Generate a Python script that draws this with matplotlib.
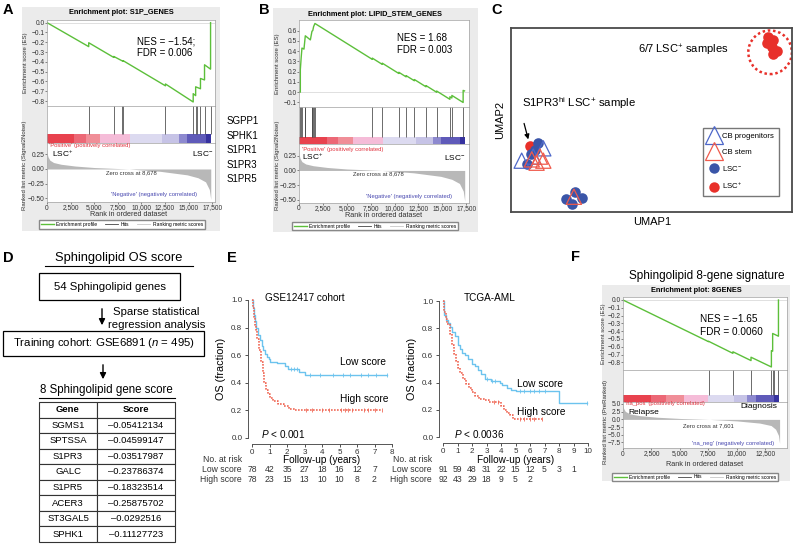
import numpy as np
import matplotlib
matplotlib.use('Agg')
import matplotlib.pyplot as plt
from matplotlib.patches import Rectangle, Ellipse
from matplotlib.lines import Line2D
from matplotlib.ticker import FuncFormatter
from matplotlib.transforms import blended_transform_factory

plt.rcParams['font.family'] = ['Liberation Sans', 'DejaVu Sans']
plt.rcParams['mathtext.fontset'] = 'custom'
plt.rcParams['mathtext.rm'] = 'Liberation Sans'
plt.rcParams['mathtext.it'] = 'Liberation Sans:italic'
plt.rcParams['mathtext.bf'] = 'Liberation Sans:bold'

# ---------------- data ----------------
# A / B share the LSC+ vs LSC- ranked list
rank_x = [0, 100, 300, 700, 1500, 3000, 5000, 8678, 12000, 14850, 16000, 16800, 17200, 17350]
rank_y = [0.28, 0.21, 0.15, 0.11, 0.08, 0.05, 0.025, 0.0, -0.04, -0.10, -0.15, -0.22, -0.35, -0.52]
rank_edges = [0, 2880, 4120, 5650, 8800, 12200, 14000, 14870, 16850, 17350]

s1p_es_x = [0, 4420, 4420, 7070, 7070, 8060, 8060, 12550, 12550, 15490, 15490, 15750, 15750,
            16260, 16260, 16690, 16690, 17330, 17330]
s1p_es_y = [0, -0.245, -0.205, -0.355, -0.345, -0.395, -0.388, -0.645, -0.626, -0.81, -0.725,
            -0.745, -0.655, -0.675, -0.57, -0.585, -0.43, -0.475, 0.0]
s1p_hits = [4420, 7070, 7950, 8060, 12550, 15490, 15750, 15910, 16260, 16690, 17330]
s1p_genes = ['SGPP1', 'SPHK1', 'S1PR1', 'S1PR3', 'S1PR5']

stem_es_x = [0, 140, 140, 230, 310, 520, 660, 1190, 1360, 1440, 1530, 1670, 7673, 7673, 8715, 8715,
             10451, 10451, 11215, 11215, 12083, 12083, 13298, 13298, 14410, 14410, 15798, 15798,
             16007, 16007, 17187, 17187, 17330]
stem_es_y = [0, 0.0, 0.22, 0.34, 0.43, 0.42, 0.55, 0.51, 0.595, 0.60, 0.64, 0.67, 0.32, 0.332, 0.271,
             0.283, 0.182, 0.194, 0.149, 0.161, 0.111, 0.123, 0.052, 0.064, -0.001, 0.011, -0.07,
             -0.045, -0.057, -0.032, -0.101, 0.017, 0.012]
stem_hits = [140, 230, 310, 625, 660, 1320, 1360, 1420, 1530, 1670, 7673, 8715, 10451, 11215,
             12083, 13298, 14410, 15798, 16007, 17187]

# F: 8-gene signature, relapse vs diagnosis
sig_rank_x = [0, 50, 200, 600, 1500, 3000, 5000, 7601, 10000, 12000, 13000, 13400, 13650, 13750]
sig_rank_y = [5.0, 3.6, 2.6, 1.8, 1.2, 0.7, 0.3, 0.0, -0.5, -1.2, -2.0, -3.2, -5.2, -7.8]
sig_edges = [0, 2500, 3760, 5370, 7480, 9740, 10860, 11650, 13230, 13700]
sig_es_x = [0, 7510, 7510, 9650, 9650, 11240, 11240, 13030, 13030, 13140, 13140, 13650, 13650]
sig_es_y = [0, -0.535, -0.53, -0.685, -0.665, -0.778, -0.735, -0.86, -0.65, -0.658, -0.43, -0.465, 0.0]
sig_hits = [7510, 9650, 11240, 13030, 13140, 13230, 13650]

# C: UMAP coordinates
lsc_neg_x = [0.97, 0.70, 0.56, 0.85, 1.96, 2.28, 2.52, 2.16]
lsc_neg_y = [3.77, 3.15, 2.59, 3.35, 0.69, 1.10, 0.74, 0.43]
lsc_pos_x = [9.16, 9.31, 9.10, 9.28, 9.46, 9.34, 0.66]
lsc_pos_y = [9.49, 9.35, 9.17, 8.98, 8.77, 8.59, 3.58]
cb_prog_x = [1.15, 0.38, 0.79]
cb_prog_y = [3.46, 2.79, 3.01]
cb_stem_x = [1.03, 0.91, 1.15, 0.74, 2.24]
cb_stem_y = [3.01, 2.68, 2.79, 2.86, 0.83]

# D: gene score table
genes = ['SGMS1', 'SPTSSA', 'S1PR3', 'GALC', 'S1PR5', 'ACER3', 'ST3GAL5', 'SPHK1']
scores = [-0.05412134, -0.04599147, -0.03517987, -0.23786374, -0.18323514, -0.25875702,
          -0.0292516, -0.11127723]

# E: Kaplan-Meier curves
gse_low_t = [0, 0.05, 0.1, 0.15, 0.25, 0.35, 0.45, 0.55, 0.65, 0.75, 0.85, 0.95, 1.05, 1.45, 1.9,
             2.05, 2.7, 3.0, 7.7]
gse_low_s = [1.0, 0.94, 0.89, 0.85, 0.80, 0.75, 0.71, 0.67, 0.64, 0.61, 0.59, 0.57, 0.55, 0.54,
             0.52, 0.50, 0.48, 0.46, 0.46]
gse_high_t = [0, 0.05, 0.1, 0.15, 0.2, 0.3, 0.4, 0.5, 0.6, 0.7, 0.8, 0.9, 1.0, 1.2, 1.5, 1.8, 2.1,
              2.45, 7.45]
gse_high_s = [1.0, 0.94, 0.88, 0.82, 0.78, 0.72, 0.64, 0.55, 0.47, 0.40, 0.35, 0.32, 0.29, 0.27,
              0.25, 0.23, 0.21, 0.20, 0.20]
gse_low_cens = [2.2, 2.4, 2.55, 3.3, 3.9, 4.6, 5.2, 5.6, 6.2, 6.6, 7.1, 7.7]
gse_high_cens = [3.1, 3.4, 4.0, 4.4, 5.1, 5.3, 5.5, 5.7, 6.4, 6.6, 7.0, 7.45]
gse_low_risk = [78, 42, 35, 27, 18, 16, 12, 7]
gse_high_risk = [78, 23, 15, 13, 10, 10, 8, 2]

tcga_low_t = [0, 0.1, 0.2, 0.35, 0.5, 0.65, 0.8, 1.0, 1.15, 1.3, 1.5, 1.7, 2.0, 2.2, 2.4, 2.6, 2.9,
              3.3, 3.9, 4.1, 4.4, 4.7, 5.0, 8.0, 9.9]
tcga_low_s = [1.0, 0.90, 0.86, 0.84, 0.81, 0.77, 0.74, 0.68, 0.65, 0.62, 0.60, 0.57, 0.54, 0.52,
              0.49, 0.46, 0.43, 0.41, 0.40, 0.38, 0.36, 0.345, 0.335, 0.25, 0.25]
tcga_high_t = [0, 0.1, 0.2, 0.3, 0.45, 0.6, 0.75, 0.9, 1.05, 1.2, 1.4, 1.6, 1.8, 2.0, 2.2, 2.5, 2.9,
               3.2, 4.0, 4.2, 4.4, 4.6, 4.8, 6.8]
tcga_high_s = [1.0, 0.92, 0.87, 0.83, 0.76, 0.68, 0.61, 0.56, 0.51, 0.47, 0.43, 0.39, 0.36, 0.33,
               0.30, 0.28, 0.27, 0.255, 0.23, 0.20, 0.18, 0.16, 0.135, 0.135]
tcga_low_cens = [3.0, 3.4, 3.6, 5.3, 5.6, 6.0, 6.3, 6.6, 7.0, 9.9]
tcga_high_cens = [3.5, 3.8, 5.3, 5.6, 6.0, 6.3, 6.8]
tcga_low_risk = [91, 59, 48, 31, 22, 15, 12, 5, 3, 1]
tcga_high_risk = [92, 43, 29, 18, 9, 5, 2]

# ---------------- styles ----------------
bar_cols = ['#e8424e', '#ec6876', '#f08e98', '#f5bcd8', '#dcdaf0', '#c6c3e6', '#8d89cf',
            '#5f5ab9', '#36329f']
GREEN = '#5cbf3a'
KM_BLUE = '#6cc3ee'
KM_RED = '#f06a58'
C_BLUE = '#3a55a8'
C_RED = '#e8302a'
T_BLUE = '#4d67c9'
T_RED = '#ef5a4c'

W, H = 794, 544
fig = plt.figure(figsize=(W / 100, H / 100), dpi=100)


def box(x0, y0, x1, y1):
    return [x0 / W, 1 - y1 / H, (x1 - x0) / W, (y1 - y0) / H]


def txt(x, y, s, **kw):
    kw.setdefault('ha', 'left')
    kw.setdefault('va', 'center')
    return fig.text(x / W, 1 - y / H, s, **kw)


def minus_fmt(fmt):
    return FuncFormatter(lambda v, p: (fmt % v).replace('-', '\u2212'))


def gsea(bg, title_y, x0, x1, ys, title, es_x, es_y, hits, rk_x, rk_y, edges, xmax, xticks,
         es_lim, es_ticks, m_lim, m_ticks, es_lab_x, m_lab, m_lab_x, m_lab_y, xlab_xy, leg_xy):
    y_es0, y_es1, y_bar0, y_bar1, y_m1 = ys
    fig.add_artist(Rectangle((bg[0] / W, 1 - bg[3] / H), (bg[2] - bg[0]) / W, (bg[3] - bg[1]) / H,
                             transform=fig.transFigure, fc='#ebebeb', ec='none', zorder=-5))
    txt((bg[0] + bg[2]) / 2, title_y, title, ha='center', fontsize=5.3, fontweight='bold')
    ax1 = fig.add_axes(box(x0, y_es0, x1, y_es1))
    ax1.plot(es_x, es_y, color=GREEN, lw=1.0)
    ax1.axhline(0, color='#c8c8c8', lw=0.4, zorder=0)
    ax1.set_xlim(0, xmax)
    ax1.set_ylim(*es_lim)
    ax1.set_yticks(es_ticks)
    ax1.yaxis.set_major_formatter(minus_fmt('%.1f'))
    ax1.set_xticks([])
    ax2 = fig.add_axes(box(x0, y_es1, x1, y_bar1))
    frac = (y_bar1 - y_bar0) / (y_bar1 - y_es1)
    ax2.bar(edges[:-1], frac, width=np.diff(edges), bottom=0, align='edge', color=bar_cols, lw=0)
    ax2.vlines(hits, frac, 1, color='#444444', lw=0.55)
    ax2.set_xlim(0, xmax)
    ax2.set_ylim(0, 1)
    ax2.set_xticks([])
    ax2.set_yticks([])
    ax3 = fig.add_axes(box(x0, y_bar1, x1, y_m1))
    ax3.fill_between(rk_x, rk_y, 0, color='#b8b8b8', lw=0)
    ax3.set_xlim(0, xmax)
    ax3.set_ylim(*m_lim)
    ax3.set_yticks(m_ticks)
    fmt = '%.2f' if abs(m_ticks[0]) < 1 else '%.1f'
    ax3.yaxis.set_major_formatter(minus_fmt(fmt))
    ax3.set_xticks(xticks)
    ax3.xaxis.set_major_formatter(FuncFormatter(lambda v, p: f'{v:,.0f}'))
    for ax in (ax1, ax2, ax3):
        for sp in ax.spines.values():
            sp.set_color('#a0a0a0')
            sp.set_linewidth(0.5)
        ax.tick_params(labelsize=4.8, length=1.2, width=0.4, pad=0.6, colors='#333333')
    txt(es_lab_x, (y_es0 + y_es1) / 2, 'Enrichment score (ES)', rotation=90, ha='center',
        fontsize=4.3, color='#333333')
    txt(m_lab_x, m_lab_y, m_lab, rotation=90, ha='center', fontsize=4.3, color='#333333')
    txt(xlab_xy[0], xlab_xy[1], 'Rank in ordered dataset', ha='center', fontsize=5.2, color='#333333')
    handles = [Line2D([], [], color=GREEN, lw=1.0), Line2D([], [], color='#444444', lw=0.6),
               Line2D([], [], color='#c8c8c8', lw=0.6)]
    fig.legend(handles, ['Enrichment profile', 'Hits', 'Ranking metric scores'], ncol=3,
               loc='center', bbox_to_anchor=(leg_xy[0] / W, 1 - leg_xy[1] / H), fontsize=3.6,
               frameon=True, fancybox=False, edgecolor='#888888', framealpha=1, borderpad=0.35,
               handlelength=2.6, handletextpad=0.5, columnspacing=1.6, borderaxespad=0)
    return ax1, ax2, ax3


# ---------------- A ----------------
txt(8, 10, 'A', ha='center', fontsize=10.5, fontweight='bold')
gsea((22, 7, 220, 231), 12, 47, 215, (20, 106, 134, 143, 202), 'Enrichment plot: S1P_GENES',
     s1p_es_x, s1p_es_y, s1p_hits, rank_x, rank_y, rank_edges, 17800,
     [0, 2500, 5000, 7500, 10000, 12500, 15000, 17500],
     (-0.851, 0.027), [0, -0.1, -0.2, -0.3, -0.4, -0.5, -0.6, -0.7, -0.8],
     (-0.563, 0.443), [0.25, 0, -0.25, -0.5], 25, 'Ranked list metric (Signal2Noise)', 25, 165,
     (129, 215), (122, 224.5))
txt(137, 42, 'NES = \u22121.54;', fontsize=7)
txt(137, 53, 'FDR = 0.006', fontsize=7)
txt(52, 154, r'LSC$^{+}$', fontsize=6)
txt(213, 154, r'LSC$^{-}$', ha='right', fontsize=6)
txt(49, 146, "'Positive' (positively correlated)", fontsize=4.2, color='#e0303c')
txt(197, 194, "'Negative' (negatively correlated)", ha='right', fontsize=4.2, color='#4848b0')
txt(131, 173, 'Zero cross at 8,678', ha='center', fontsize=4.2, color='#333333')
for i, g in enumerate(s1p_genes):
    txt(227, 121 + 14.6 * i, g, fontsize=7)

# ---------------- B ----------------
txt(264, 10, 'B', ha='center', fontsize=10.5, fontweight='bold')
gsea((273, 8, 478, 232), 14, 299, 469, (20, 107, 137, 144, 203), 'Enrichment plot: LIPID_STEM_GENES',
     stem_es_x, stem_es_y, stem_hits, rank_x, rank_y, rank_edges, 17800,
     [0, 2500, 5000, 7500, 10000, 12500, 15000, 17500],
     (-0.145, 0.704), [0.6, 0.5, 0.4, 0.3, 0.2, 0.1, 0, -0.1],
     (-0.551, 0.448), [0.25, 0, -0.25, -0.5], 278, 'Ranked list metric (Signal2Noise)', 278, 165,
     (384, 216), (375, 226))
txt(397, 38, 'NES = 1.68', fontsize=7)
txt(397, 50, 'FDR = 0.003', fontsize=7)
txt(302, 157, r'LSC$^{+}$', fontsize=6)
txt(465, 157, r'LSC$^{-}$', ha='right', fontsize=6)
txt(302, 149, "'Positive' (positively correlated)", fontsize=4.2, color='#e0303c')
txt(452, 197, "'Negative' (negatively correlated)", ha='right', fontsize=4.2, color='#4848b0')
txt(378, 174, 'Zero cross at 8,678', ha='center', fontsize=4.2, color='#333333')

# ---------------- C ----------------
txt(497, 10, 'C', ha='center', fontsize=10.5, fontweight='bold')
axC = fig.add_axes(box(511, 28, 792, 212))
axC.set_xlim(0, 10)
axC.set_ylim(0, 10)
axC.set_xticks([])
axC.set_yticks([])
for sp in axC.spines.values():
    sp.set_color('#4a4a4a')
    sp.set_linewidth(1.3)
axC.scatter(lsc_pos_x, lsc_pos_y, s=58, color=C_RED, lw=0, zorder=2)
axC.scatter(lsc_neg_x, lsc_neg_y, s=58, color=C_BLUE, lw=0, zorder=3)
axC.scatter(cb_prog_x, cb_prog_y, s=120, marker='^', facecolors='none', edgecolors=T_BLUE,
            linewidths=0.9, zorder=4)
axC.scatter(cb_stem_x, cb_stem_y, s=120, marker='^', facecolors='none', edgecolors=T_RED,
            linewidths=0.9, zorder=5)
axC.add_patch(Ellipse((9.22, 8.68), 1.55, 2.37, fill=False, ec=C_RED, ls=(0, (1, 1.1)), lw=1.8))
axC.text(4.52, 8.80, r'6/7 LSC$^{+}$ samples', fontsize=8, va='center')
axC.text(0.39, 5.92, r'S1PR3$^{\rm hi}$ LSC$^{+}$ sample', fontsize=8.2, va='center')
axC.annotate('', xy=(0.64, 3.80), xytext=(0.44, 4.96),
             arrowprops=dict(arrowstyle='-|>', color='k', lw=0.9, mutation_scale=7))
leg_handles = [Line2D([], [], ls='none', marker='^', ms=13, mfc='none', mec=T_BLUE, mew=0.9),
               Line2D([], [], ls='none', marker='^', ms=13, mfc='none', mec=T_RED, mew=0.9),
               Line2D([], [], ls='none', marker='o', ms=7.5, mfc=C_BLUE, mec='none'),
               Line2D([], [], ls='none', marker='o', ms=7.5, mfc=C_RED, mec='none')]
axC.legend(leg_handles, ['CB progenitors', 'CB stem', r'LSC$^{-}$', r'LSC$^{+}$'], loc='upper left',
           bbox_to_anchor=((703 - 511) / 281, (212 - 128) / 184), fontsize=5.6, frameon=True,
           fancybox=False, edgecolor='#777777', framealpha=1, borderpad=0.6, labelspacing=1.05,
           handletextpad=0.3, handlelength=1.6, borderaxespad=0)
txt(652, 222, 'UMAP1', ha='center', fontsize=8)
txt(500, 120, 'UMAP2', ha='center', rotation=90, fontsize=8)

# ---------------- D ----------------
txt(8, 258, 'D', ha='center', fontsize=10.5, fontweight='bold')
axD = fig.add_axes(box(0, 250, 215, 544))
axD.set_xlim(0, 215)
axD.set_ylim(544, 250)
axD.axis('off')
axD.text(119, 258, 'Sphingolipid OS score', ha='center', va='center', fontsize=9.3)
axD.plot([45, 193], [266, 266], color='k', lw=0.8)
axD.add_patch(Rectangle((39, 273), 141, 27, fill=False, lw=0.9, ec='k'))
axD.text(110, 287, '54 Sphingolipid genes', ha='center', va='center', fontsize=8.2)
axD.annotate('', xy=(102, 328), xytext=(102, 306),
             arrowprops=dict(arrowstyle='-|>', color='k', lw=1.0, mutation_scale=9))
axD.text(113, 312, 'Sparse statistical', va='center', fontsize=8.2)
axD.text(108, 325, 'regression analysis', va='center', fontsize=8.2)
axD.add_patch(Rectangle((3, 331), 201, 25, fill=False, lw=0.9, ec='k'))
axD.text(104, 343.5, r'Training cohort: GSE6891 ($n$ = 495)', ha='center', va='center', fontsize=8.2)
axD.annotate('', xy=(103, 382), xytext=(103, 362),
             arrowprops=dict(arrowstyle='-|>', color='k', lw=1.0, mutation_scale=9))
axD.text(106, 390, '8 Sphingolipid gene score', ha='center', va='center', fontsize=8.3)
axD.plot([39, 175], [398, 398], color='k', lw=0.8)
cells = [[g, str(v).replace('-', '\u2013')] for g, v in zip(genes, scores)]
tab = axD.table(cellText=cells, colLabels=['Gene', 'Score'], cellLoc='center',
                colWidths=[58 / 136, 78 / 136],
                bbox=[39 / 215, (544 - 542) / 294, 136 / 215, 140 / 294])
tab.auto_set_font_size(False)
for (r, c), cell in tab.get_celld().items():
    cell.set_fontsize(6.8)
    cell.set_linewidth(0.8)
    cell.set_edgecolor('#333333')
    if r == 0:
        cell.set_text_props(fontweight='bold')

# ---------------- E ----------------
txt(232, 258, 'E', ha='center', fontsize=10.5, fontweight='bold')


def km(x0, x1, ytop, ybot, xmax, lo_t, lo_s, hi_t, hi_s, lo_c, hi_c, lo_r, hi_r, lab_x):
    ax = fig.add_axes(box(x0, ytop, x1, ybot))
    ax.patch.set_alpha(0)
    ax.step(lo_t, lo_s, where='post', color=KM_BLUE, lw=1.0, clip_on=False)
    ax.step(hi_t, hi_s, where='post', color=KM_RED, lw=1.2, ls=(0, (1, 0.8)), clip_on=False)
    for ct, t, s, col in ((lo_c, lo_t, lo_s, KM_BLUE), (hi_c, hi_t, hi_s, KM_RED)):
        idx = np.searchsorted(t, ct, side='right') - 1
        ax.plot(ct, np.asarray(s)[idx], ls='none', marker='|', ms=2.5, mew=0.6, color=col,
                clip_on=False)
    ax.set_xlim(0, xmax)
    ax.set_ylim(0, 1)
    for side in ('top', 'right'):
        ax.spines[side].set_visible(False)
    ax.spines['left'].set_position(('outward', 3))
    ax.spines['bottom'].set_position(('outward', 4))
    ax.spines['left'].set_bounds(0, 1)
    ax.spines['bottom'].set_bounds(0, xmax)
    for side in ('left', 'bottom'):
        ax.spines[side].set_color('#555555')
        ax.spines[side].set_linewidth(0.7)
    ax.set_xticks(range(0, xmax + 1))
    ax.set_yticks([0, 0.2, 0.4, 0.6, 0.8, 1.0])
    ax.yaxis.set_major_formatter(FuncFormatter(lambda v, p: f'{v:.1f}'))
    ax.tick_params(labelsize=5.8, length=2.5, width=0.6, pad=1.5, colors='#333333')
    tr = blended_transform_factory(ax.transData, fig.transFigure)
    for i, n in enumerate(lo_r):
        ax.text(i, 1 - 470 / H, str(n), transform=tr, ha='center', va='center', fontsize=6.2,
                color='#333333')
    for i, n in enumerate(hi_r):
        ax.text(i, 1 - 479.5 / H, str(n), transform=tr, ha='center', va='center', fontsize=6.2,
                color='#333333')
    txt(lab_x, 460, 'No. at risk', ha='right', fontsize=6.2, color='#333333')
    txt(lab_x, 470, 'Low score', ha='right', fontsize=6.2, color='#333333')
    txt(lab_x, 479.5, 'High score', ha='right', fontsize=6.2, color='#333333')
    txt((x0 + x1) / 2, 460, 'Follow-up (years)', ha='center', fontsize=7.2)
    txt(x0 - 31, (ytop + ybot) / 2, 'OS (fraction)', ha='center', rotation=90, fontsize=7.8)
    return ax


km(252, 392, 300, 438, 8, gse_low_t, gse_low_s, gse_high_t, gse_high_s, gse_low_cens,
   gse_high_cens, gse_low_risk, gse_high_risk, 242)
txt(265, 298, 'GSE12417 cohort', fontsize=7.2)
txt(386, 362, 'Low score', ha='right', fontsize=7.3)
txt(388, 399, 'High score', ha='right', fontsize=7.3)
txt(261, 434, r'$P$ < 0.001', fontsize=7.2)

km(443, 588, 301, 437, 10, tcga_low_t, tcga_low_s, tcga_high_t, tcga_high_s, tcga_low_cens,
   tcga_high_cens, tcga_low_risk, tcga_high_risk, 432)
txt(464, 298, 'TCGA-AML', fontsize=7.2)
txt(517, 384, 'Low score', fontsize=7.3)
txt(517, 412, 'High score', fontsize=7.3)
txt(454, 434, r'$P$ < 0.0036', fontsize=7.2)

# ---------------- F ----------------
txt(576, 257, 'F', ha='center', fontsize=10.5, fontweight='bold')
txt(707, 276, 'Sphingolipid 8-gene signature', ha='center', fontsize=8.5)
gsea((602, 285, 790, 481), 291, 623, 787, (297, 370, 395, 402, 448), 'Enrichment plot: 8GENES',
     sig_es_x, sig_es_y, sig_hits, sig_rank_x, sig_rank_y, sig_edges, 14400,
     [0, 2500, 5000, 7500, 10000, 12500],
     (-0.899, 0.0385), [0, -0.1, -0.2, -0.3, -0.4, -0.5, -0.6, -0.7, -0.8],
     (-9.3, 5.65), [5.0, 2.5, 0, -2.5, -5.0, -7.5], 604, 'Ranked list metric (PreRanked)', 606, 422,
     (705, 465), (695, 477))
txt(700, 319, 'NES = \u22121.65', fontsize=7.2)
txt(700, 332, 'FDR = 0.0060', fontsize=7.2)
txt(625, 404, "'na_pos' (positively correlated)", fontsize=4.2, color='#e0303c')
txt(774, 444, "'na_neg' (negatively correlated)", ha='right', fontsize=4.2, color='#4848b0')
txt(708, 426, 'Zero cross at 7,601', ha='center', fontsize=4.2, color='#333333')
txt(628, 413, 'Relapse', fontsize=6)
txt(777, 407, 'Diagnosis', ha='right', fontsize=6)

fig.savefig('out.png', dpi=100)
